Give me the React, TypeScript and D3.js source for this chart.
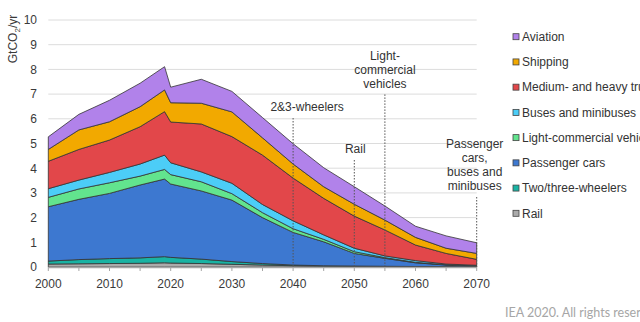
import React, { useEffect, useRef } from "react";
import * as d3 from "d3";

const years = [2000, 2005, 2010, 2015, 2019, 2020, 2025, 2030, 2035, 2040, 2045, 2050, 2055, 2060, 2065, 2070];

const rail = [0.12, 0.13, 0.14, 0.15, 0.17, 0.16, 0.14, 0.11, 0.08, 0.05, 0.03, 0.02, 0.02, 0.01, 0.01, 0.01];
const twoThreeWheelers = [0.12, 0.17, 0.2, 0.22, 0.25, 0.23, 0.18, 0.11, 0.06, 0.03, 0.02, 0.02, 0.01, 0.01, 0.01, 0.0];
const passengerCars = [2.2, 2.44, 2.64, 2.95, 3.14, 2.97, 2.76, 2.49, 1.86, 1.32, 0.97, 0.51, 0.32, 0.15, 0.06, 0.02];
const lightCommercial = [0.38, 0.42, 0.43, 0.36, 0.39, 0.38, 0.37, 0.26, 0.2, 0.15, 0.1, 0.07, 0.03, 0.02, 0.01, 0.01];
const buses = [0.35, 0.36, 0.42, 0.49, 0.58, 0.48, 0.4, 0.42, 0.33, 0.32, 0.18, 0.14, 0.07, 0.07, 0.03, 0.03];
const trucks = [1.11, 1.24, 1.31, 1.51, 1.76, 1.65, 1.94, 1.89, 2.0, 1.73, 1.48, 1.3, 1.05, 0.63, 0.43, 0.24];
const shipping = [0.48, 0.79, 0.74, 0.81, 0.88, 0.78, 0.84, 1.0, 0.7, 0.57, 0.47, 0.48, 0.4, 0.31, 0.21, 0.24];
const aviation = [0.51, 0.63, 0.87, 0.95, 0.94, 0.63, 0.97, 0.83, 0.82, 0.82, 0.77, 0.71, 0.57, 0.45, 0.5, 0.43];

const seriesNames = [
  "Rail",
  "Two/three-wheelers",
  "Passenger cars",
  "Light-commercial vehicles",
  "Buses and minibuses",
  "Medium- and heavy trucks",
  "Shipping",
  "Aviation",
];
const seriesValues = [rail, twoThreeWheelers, passengerCars, lightCommercial, buses, trucks, shipping, aviation];
const seriesColors = ["#ababab", "#19b3a3", "#3d78d0", "#62e48e", "#4ccdf7", "#e2474a", "#f2a900", "#b182ea"];

const xTicks = [2000, 2010, 2020, 2030, 2040, 2050, 2060, 2070];
const xMinorTicks = [2000, 2005, 2010, 2015, 2020, 2025, 2030, 2035, 2040, 2045, 2050, 2055, 2060, 2065, 2070];
const yTicks = [0, 1, 2, 3, 4, 5, 6, 7, 8, 9, 10];

const annotationYears = [2040, 2050, 2055, 2070];
const annotationTexts = [
  ["2&3-wheelers"],
  ["Rail"],
  ["Light-", "commercial", "vehicles"],
  ["Passenger", "cars,", "buses and", "minibuses"],
];
// layout: label first-line centre (px), horizontal offset from line (px)
const annotationLayout = [
  { top: 107, dx: 14 },
  { top: 149, dx: 1 },
  { top: 56, dx: 0 },
  { top: 144, dx: -2 },
];

export default function App() {
  const ref = useRef<SVGSVGElement>(null);

  useEffect(() => {
    const svg = d3.select(ref.current);
    svg.selectAll("*").remove();
    const font = "'Liberation Sans', Arial, sans-serif";

    const x = d3.scaleLinear().domain([2000, 2070]).range([48.3, 476.7]);
    const y = d3.scaleLinear().domain([0, 10]).range([267, 20]);

    const rows = years.map((yr, i) => {
      const r: any = { year: yr };
      seriesNames.forEach((n, k) => (r[n] = seriesValues[k][i]));
      return r;
    });

    // grid
    svg
      .append("g")
      .selectAll("line")
      .data(yTicks.filter((t) => t > 0))
      .join("line")
      .attr("x1", x(2000))
      .attr("x2", x(2070))
      .attr("y1", (d) => y(d))
      .attr("y2", (d) => y(d))
      .attr("stroke", "#dcdcdc")
      .attr("stroke-width", 1);

    const stack = d3.stack().keys(seriesNames)(rows as any);
    const area = d3
      .area<any>()
      .x((d) => x(d.data.year))
      .y0((d) => y(d[0]))
      .y1((d) => y(d[1]));

    svg
      .append("g")
      .selectAll("path")
      .data(stack)
      .join("path")
      .attr("d", (d: any) => area(d))
      .attr("fill", (_d, i) => seriesColors[i])
      .attr("stroke", "#333")
      .attr("stroke-width", 0.8)
      .attr("stroke-linejoin", "round");

    // x axis
    const ax = svg.append("g");
    ax.append("line")
      .attr("x1", x(2000))
      .attr("x2", x(2070))
      .attr("y1", y(0) + 0.5)
      .attr("y2", y(0) + 0.5)
      .attr("stroke", "#a6a6a6")
      .attr("stroke-width", 1.5);
    ax.selectAll(".mt")
      .data(xMinorTicks)
      .join("line")
      .attr("class", "mt")
      .attr("x1", (d) => x(d))
      .attr("x2", (d) => x(d))
      .attr("y1", y(0))
      .attr("y2", y(0) + 4)
      .attr("stroke", "#a6a6a6")
      .attr("stroke-width", 1);
    ax.selectAll("text")
      .data(xTicks)
      .join("text")
      .attr("x", (d) => x(d))
      .attr("y", 287.5)
      .attr("text-anchor", "middle")
      .attr("font-family", font)
      .attr("font-size", 12)
      .attr("fill", "#3a3a3a")
      .text((d) => d);

    // y labels
    svg
      .append("g")
      .selectAll("text")
      .data(yTicks)
      .join("text")
      .attr("x", 37)
      .attr("y", (d) => y(d) + 4.3)
      .attr("text-anchor", "end")
      .attr("font-family", font)
      .attr("font-size", 12)
      .attr("fill", "#3a3a3a")
      .text((d) => d);

    // y title
    const yt = svg
      .append("text")
      .attr("transform", "translate(17,39) rotate(-90)")
      .attr("text-anchor", "middle")
      .attr("font-family", font)
      .attr("font-size", 12)
      .attr("fill", "#3a3a3a");
    yt.append("tspan").text("GtCO");
    yt.append("tspan").attr("font-size", 8).attr("dy", 3).text("2");
    yt.append("tspan").attr("dy", -3).text("/yr");

    // annotations
    const an = svg.append("g");
    annotationYears.forEach((yr, i) => {
      const lay = annotationLayout[i];
      const lines = annotationTexts[i];
      const lx = x(yr);
      const lineH = lines.length > 3 ? 14 : 13.7;
      lines.forEach((t, j) => {
        an.append("text")
          .attr("x", lx + lay.dx)
          .attr("y", lay.top + j * lineH + 4.3)
          .attr("text-anchor", "middle")
          .attr("font-family", font)
          .attr("font-size", 12)
          .attr("fill", "#333")
          .text(t);
      });
      const lastC = lay.top + (lines.length - 1) * lineH;
      an.append("line")
        .attr("x1", lx)
        .attr("x2", lx)
        .attr("y1", lastC + 11)
        .attr("y2", y(0))
        .attr("stroke", "#555")
        .attr("stroke-width", 1)
        .attr("stroke-dasharray", "1.5,1.5");
    });

    // legend (top to bottom: reverse stack order)
    const lg = svg.append("g");
    const order = d3.range(seriesNames.length).reverse();
    order.forEach((k, j) => {
      const cy = 36.7 + j * 25.23;
      lg.append("rect")
        .attr("x", 513)
        .attr("y", cy - 3)
        .attr("width", 6)
        .attr("height", 6)
        .attr("fill", seriesColors[k])
        .attr("stroke", "#444")
        .attr("stroke-width", 0.8);
      lg.append("text")
        .attr("x", 522)
        .attr("y", cy + 4.3)
        .attr("font-family", font)
        .attr("font-size", 12)
        .attr("fill", "#333")
        .text(seriesNames[k]);
    });

    svg
      .append("text")
      .attr("x", 505)
      .attr("y", 317)
      .attr("font-family", "Lato, 'Open Sans', sans-serif")
      .attr("font-size", 12.5)
      .attr("fill", "#a6a6a6")
      .text("IEA 2020. All rights reserved.");
  }, []);

  return (
    <svg
      ref={ref}
      width={640}
      height={322}
      style={{ position: "absolute", left: 0, top: 0, background: "#fff" }}
    />
  );
}
